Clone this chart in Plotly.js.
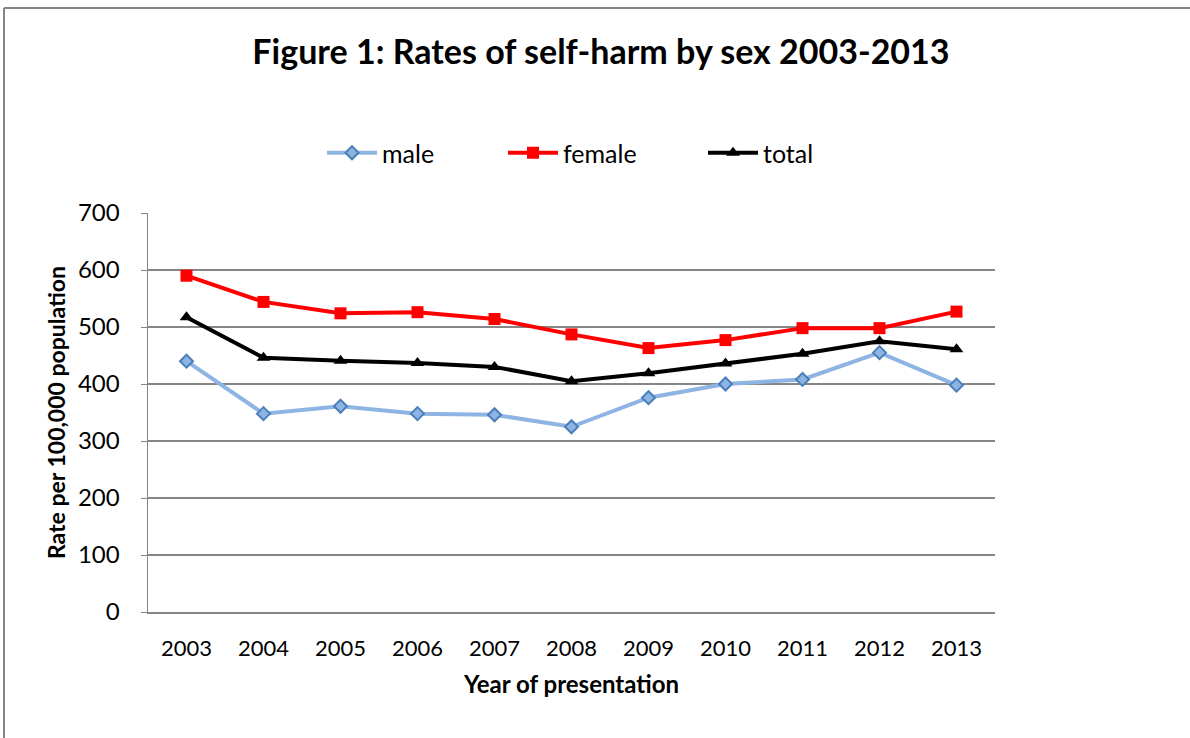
<!DOCTYPE html>
<html><head><meta charset="utf-8">
<script src="https://cdn.plot.ly/plotly-3.0.1.min.js"></script>
<style>body{margin:0;background:#fff}#chart{width:1190px;height:738px}</style>
</head><body><div id="chart"></div>
<script>
const years = ['2003','2004','2005','2006','2007','2008','2009','2010','2011','2012','2013'];
const male = [440, 348, 361, 348, 346, 325, 376, 400, 408, 455, 398];
const female = [590, 544, 524, 526, 514, 487, 463, 477, 498, 498, 527];
const total = [517, 446, 441, 437, 430, 405, 419, 436, 453, 475, 461];
const yTicks = [0,100,200,300,400,500,600,700];

const FONT = 'Lato, "Open Sans", sans-serif';
const traces = [
  {x: years, y: male, name: 'male', type: 'scatter', mode: 'lines+markers', legend: 'legend',
   line: {color: '#8EB4E3', width: 4},
   marker: {symbol: 'diamond', size: 10, color: '#8EB4E3', line: {color: '#4A7EBB', width: 2}}},
  {x: years, y: female, name: 'female', type: 'scatter', mode: 'lines+markers', legend: 'legend2',
   line: {color: '#FF0000', width: 4},
   marker: {symbol: 'square', size: 12, color: '#FF0000'}},
  {x: years, y: total, name: 'total', type: 'scatter', mode: 'lines+markers', legend: 'legend3',
   line: {color: '#000000', width: 4},
   marker: {symbol: 'triangle-up', size: 12, color: '#000000'}}
];

const L = 148, R = 995, T = 213, B = 612, W = 1190, H = 738;
const px = v => (v - L) / (R - L);
const py = v => (B - v) / (B - T);
const leg = xp => ({orientation: 'h', x: px(xp), xanchor: 'left', y: py(153), yanchor: 'middle',
           font: {size: 25, family: FONT}, itemwidth: 50, bgcolor: 'rgba(0,0,0,0)'});

const layout = {
  width: W, height: H,
  margin: {l: L, r: W - R, t: T, b: H - B},
  paper_bgcolor: '#fff', plot_bgcolor: '#fff',
  font: {family: FONT, color: '#000'},
  title: {text: '<b>Figure 1: Rates of self-harm by sex 2003-2013</b>', font: {size: 34, family: FONT, color: '#000'},
          x: 0.505, xanchor: 'center', y: 1 - 52/H, yanchor: 'middle'},
  showlegend: true,
  legend: leg(322), legend2: leg(503), legend3: leg(703),
  xaxis: {type: 'category', range: [-0.5, 10.5], showgrid: false, showline: true, linecolor: '#868686', linewidth: 1.5,
          ticks: '', tickfont: {size: 22, family: FONT}, ticklabelstandoff: 16, zeroline: false,
          title: {text: '<b>Year of presentation</b>', font: {size: 24, family: FONT}, standoff: 16}},
  yaxis: {range: [0, 700], tickvals: yTicks, showgrid: true, gridcolor: '#868686', gridwidth: 1.5,
          showline: true, linecolor: '#868686', linewidth: 1.5, ticks: 'outside', ticklen: 6, tickcolor: '#868686',
          tickfont: {size: 24, family: FONT}, ticklabelstandoff: 16, zeroline: false,
          title: {text: '<b>Rate per 100,000 population</b>', font: {size: 23, family: FONT}, standoff: 6}},
  shapes: [
    {type: 'line', xref: 'paper', yref: 'paper', x0: px(4), x1: px(4), y0: py(H + 5), y1: py(8), line: {color: '#868686', width: 2}},
    {type: 'line', xref: 'paper', yref: 'paper', x0: px(4), x1: px(W + 5), y0: py(8), y1: py(8), line: {color: '#868686', width: 2}}
  ]
};
Plotly.newPlot('chart', traces, layout, {displayModeBar: false, staticPlot: true});
</script></body></html>
